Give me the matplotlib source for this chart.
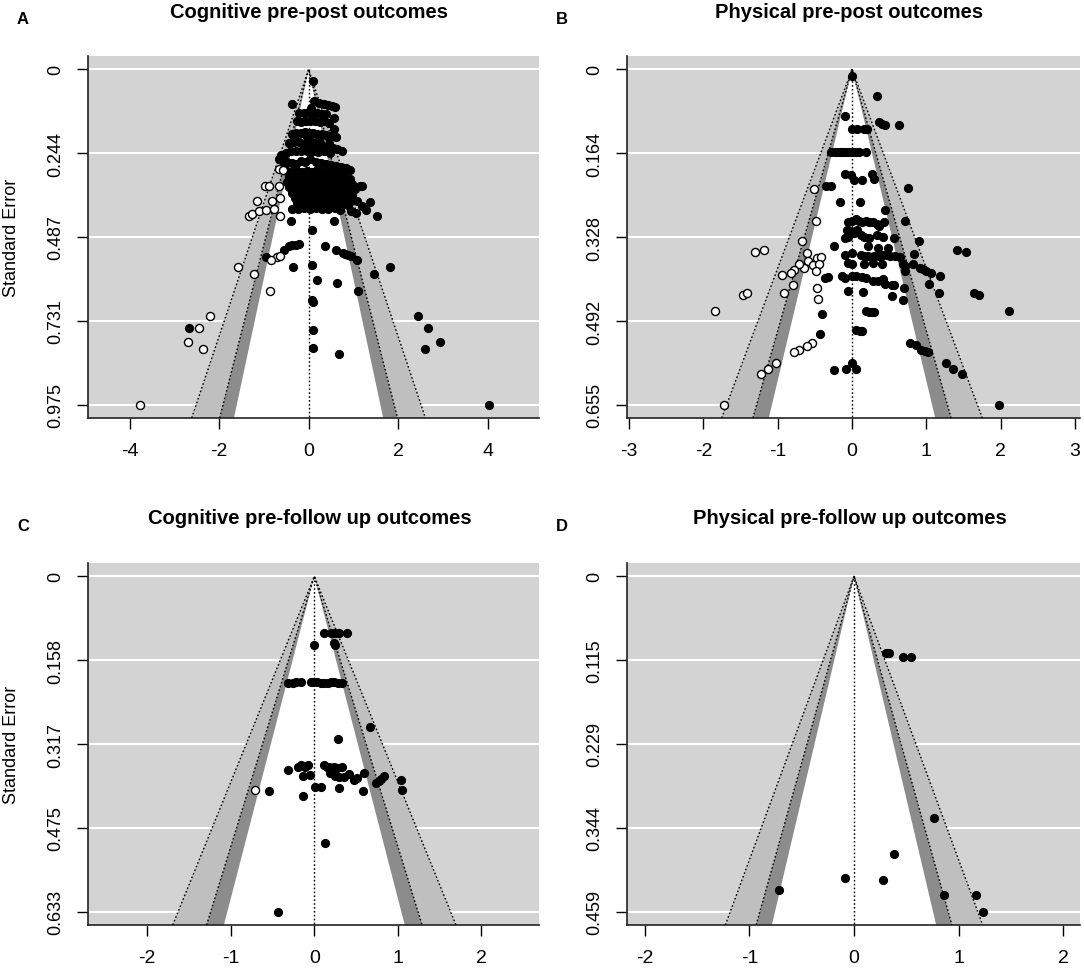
import numpy as np
import matplotlib
matplotlib.use("Agg")
import matplotlib.pyplot as plt

plt.rcParams['font.family'] = ['Liberation Sans', 'DejaVu Sans']

# ---------------------------------------------------------------------
# Data: (effect size, standard error)
# ---------------------------------------------------------------------
a_filled = [
    (0.10, 0.034),
    (-0.38, 0.100), (0.12, 0.092), (0.23, 0.097), (0.34, 0.102), (0.44, 0.104), (0.53, 0.107), (0.59, 0.109), (0.05, 0.112),
    (-0.22, 0.126), (-0.10, 0.128), (0.01, 0.124), (0.10, 0.127), (0.19, 0.126), (0.31, 0.129), (0.38, 0.131),
    (0.57, 0.141),
    (-0.25, 0.150), (-0.16, 0.152), (-0.05, 0.150), (0.04, 0.149), (0.14, 0.151), (0.25, 0.153), (0.35, 0.150), (0.46, 0.155),
    (0.57, 0.173),
    (-0.37, 0.189), (-0.28, 0.184), (-0.18, 0.186), (-0.08, 0.182), (0.01, 0.184), (0.10, 0.186), (0.19, 0.188),
    (0.29, 0.189), (0.38, 0.192), (0.49, 0.194), (0.61, 0.197),
    (-0.33, 0.199), (-0.03, 0.197), (0.23, 0.199), (0.46, 0.197),
    (-0.44, 0.215), (-0.33, 0.212), (-0.22, 0.210), (-0.13, 0.218), (-0.03, 0.222), (0.07, 0.212), (0.16, 0.220),
    (0.25, 0.215), (0.35, 0.225), (0.46, 0.218), (0.55, 0.228), (0.64, 0.232), (0.74, 0.236),
    (-0.61, 0.248), (-0.50, 0.242), (-0.40, 0.238), (-0.28, 0.236), (-0.16, 0.237), (-0.03, 0.238), (0.10, 0.236),
    (0.22, 0.240), (0.34, 0.238), (0.47, 0.242),
    (-0.67, 0.262), (-0.58, 0.265), (-0.48, 0.268), (-0.38, 0.272), (-0.28, 0.275), (-0.17, 0.265), (-0.07, 0.270),
    (0.04, 0.262), (0.16, 0.268), (0.27, 0.272), (0.38, 0.275), (0.49, 0.278), (0.61, 0.282), (0.72, 0.285),
    (0.83, 0.288), (0.92, 0.292),
    (-0.48, 0.296), (-0.37, 0.298), (-0.25, 0.295), (-0.14, 0.297), (-0.03, 0.296), (0.08, 0.299), (0.19, 0.294),
    (0.31, 0.297), (0.42, 0.296), (0.53, 0.300), (0.64, 0.298), (0.75, 0.302),
    (-0.43, 0.312), (-0.31, 0.314), (-0.20, 0.310), (-0.09, 0.313), (0.02, 0.311), (0.13, 0.315), (0.25, 0.312),
    (0.36, 0.310), (0.47, 0.314), (0.58, 0.312), (0.70, 0.316), (0.81, 0.313), (0.92, 0.318),
    (-0.48, 0.328), (-0.37, 0.330), (-0.25, 0.327), (-0.14, 0.329), (-0.03, 0.326), (0.08, 0.330), (0.19, 0.328),
    (0.31, 0.327), (0.42, 0.331), (0.53, 0.328), (0.64, 0.330), (0.75, 0.327), (0.87, 0.332), (0.98, 0.334),
    (-0.43, 0.343), (-0.31, 0.345), (-0.20, 0.342), (-0.09, 0.344), (0.02, 0.341), (0.13, 0.345), (0.25, 0.343),
    (0.36, 0.342), (0.47, 0.346), (0.58, 0.343), (0.70, 0.345), (0.81, 0.342), (0.92, 0.347), (1.03, 0.349),
    (-0.37, 0.359), (-0.25, 0.361), (-0.14, 0.358), (-0.03, 0.360), (0.08, 0.357), (0.19, 0.361), (0.31, 0.359),
    (0.42, 0.358), (0.53, 0.362), (0.64, 0.359), (0.75, 0.361), (0.87, 0.363), (0.98, 0.365),
    (-0.31, 0.374), (-0.20, 0.376), (-0.09, 0.373), (0.02, 0.375), (0.13, 0.372), (0.25, 0.376), (0.36, 0.374),
    (0.47, 0.373), (0.58, 0.377), (0.70, 0.375), (0.81, 0.378), (0.92, 0.380),
    (-0.25, 0.390), (-0.14, 0.392), (-0.03, 0.389), (0.08, 0.391), (0.19, 0.388), (0.31, 0.392), (0.42, 0.390),
    (0.53, 0.389), (0.64, 0.393), (0.75, 0.391), (0.87, 0.395),
    (-0.37, 0.405), (-0.23, 0.407), (-0.10, 0.404), (0.04, 0.406), (0.17, 0.403), (0.31, 0.407), (0.44, 0.405),
    (0.58, 0.404), (0.71, 0.408),
    (1.19, 0.340), (1.14, 0.338), (1.09, 0.383), (1.37, 0.385), (1.20, 0.398), (0.94, 0.412), (1.05, 0.419),
    (1.54, 0.425), (1.28, 0.409),
    (-0.40, 0.441), (0.57, 0.441),
    (0.08, 0.468), (-0.96, 0.545), (-0.55, 0.524), (-0.44, 0.515), (-0.37, 0.512), (-0.29, 0.510), (-0.22, 0.509),
    (-0.34, 0.575), (0.08, 0.569), (0.37, 0.515), (0.61, 0.525), (0.76, 0.534), (0.81, 0.536), (0.87, 0.540),
    (0.94, 0.544), (1.08, 0.554), (0.18, 0.614), (0.64, 0.621), (0.08, 0.672), (0.10, 0.677), (1.11, 0.645),
    (1.47, 0.594), (1.82, 0.575), (0.10, 0.759), (0.10, 0.810), (0.67, 0.829),
    (2.45, 0.716), (2.68, 0.752), (2.94, 0.792), (2.60, 0.813), (-2.68, 0.752), (4.04, 0.975),
]
a_open = [
    (-0.66, 0.291), (-0.58, 0.293), (-0.97, 0.340), (-0.89, 0.340), (-0.66, 0.340), (-1.15, 0.383), (-0.81, 0.383),
    (-0.63, 0.374), (-1.34, 0.427), (-1.26, 0.420), (-1.11, 0.413), (-0.96, 0.408), (-0.78, 0.406), (-0.63, 0.427),
    (-0.70, 0.545), (-0.84, 0.555), (-0.63, 0.543), (-1.57, 0.575), (-1.22, 0.594), (-0.87, 0.645),
    (-2.20, 0.716), (-2.45, 0.752), (-2.70, 0.792), (-2.35, 0.813), (-3.77, 0.975),
]

b_filled = [
    (0.00, 0.013), (0.34, 0.052), (-0.09, 0.091), (0.37, 0.103), (0.41, 0.106), (0.44, 0.108), (0.63, 0.108),
    (0.00, 0.117), (0.07, 0.117), (0.16, 0.117), (0.20, 0.117),
    (-0.28, 0.162), (-0.23, 0.162), (-0.20, 0.162), (-0.16, 0.162), (-0.13, 0.162), (-0.09, 0.162), (-0.06, 0.162),
    (-0.02, 0.162), (0.02, 0.162), (0.06, 0.162), (0.09, 0.162), (0.19, 0.162),
    (-0.09, 0.205), (-0.02, 0.207), (0.02, 0.216), (0.14, 0.216), (0.27, 0.205), (0.29, 0.215),
    (-0.35, 0.227), (-0.28, 0.227), (0.75, 0.231), (-0.16, 0.259), (0.11, 0.259), (0.44, 0.274), (0.72, 0.297),
    (-0.05, 0.299), (0.00, 0.297), (0.05, 0.293), (0.09, 0.297), (0.14, 0.299), (0.19, 0.297), (0.23, 0.299),
    (0.28, 0.299), (0.33, 0.303), (0.37, 0.306), (0.43, 0.299), (-0.07, 0.313), (-0.02, 0.316), (0.02, 0.319),
    (0.07, 0.313), (0.12, 0.323), (0.16, 0.327), (0.23, 0.329), (0.33, 0.323), (0.42, 0.327), (0.56, 0.329),
    (-0.09, 0.329), (-0.05, 0.327),
    (0.90, 0.336), (-0.24, 0.346), (0.21, 0.346), (0.35, 0.349), (0.49, 0.349),
    (-0.09, 0.362), (0.00, 0.359), (0.12, 0.362), (0.16, 0.364), (0.21, 0.365), (0.26, 0.366), (0.30, 0.365),
    (0.37, 0.364), (0.42, 0.362), (0.47, 0.362), (0.51, 0.364), (0.58, 0.365), (0.65, 0.367),
    (0.83, 0.360), (1.42, 0.352), (1.54, 0.357),
    (-0.05, 0.378), (0.00, 0.381), (0.16, 0.381), (0.28, 0.378), (0.40, 0.380), (0.68, 0.380), (0.72, 0.385),
    (0.82, 0.381), (0.91, 0.388), (0.95, 0.391), (1.00, 0.394), (1.07, 0.398), (1.19, 0.403), (0.72, 0.394),
    (-0.36, 0.408), (-0.33, 0.406), (-0.13, 0.404), (-0.09, 0.408), (0.00, 0.404), (0.05, 0.404), (0.14, 0.406),
    (0.19, 0.408), (0.28, 0.414), (0.35, 0.414), (0.42, 0.409), (0.44, 0.419), (0.54, 0.422), (0.57, 0.422),
    (1.04, 0.419), (0.70, 0.427), (-0.06, 0.434), (0.15, 0.435), (0.54, 0.442), (0.68, 0.450), (1.17, 0.436),
    (1.64, 0.436), (1.71, 0.440), (-0.40, 0.477), (0.19, 0.473), (0.23, 0.474), (0.27, 0.475), (0.30, 0.475),
    (2.11, 0.473), (0.06, 0.509), (0.11, 0.511), (0.14, 0.512), (-0.43, 0.518), (0.78, 0.535), (0.86, 0.538),
    (0.93, 0.548), (0.98, 0.550), (1.02, 0.552), (1.27, 0.574), (1.36, 0.585), (1.48, 0.595),
    (-0.24, 0.587), (-0.08, 0.585), (0.00, 0.574), (0.05, 0.585), (1.98, 0.655),
]
b_open = [
    (-0.51, 0.233), (-0.48, 0.297), (-0.67, 0.336), (-1.30, 0.357), (-1.19, 0.352), (-0.61, 0.359), (-0.59, 0.374),
    (-0.47, 0.368), (-0.42, 0.367), (-0.52, 0.383), (-0.45, 0.381), (-0.65, 0.388), (-0.71, 0.381), (-0.78, 0.392),
    (-0.82, 0.398), (-0.94, 0.402), (-0.48, 0.393), (-0.80, 0.421), (-0.92, 0.436), (-0.47, 0.428), (-0.46, 0.449),
    (-1.47, 0.440), (-1.42, 0.436), (-1.85, 0.473), (-0.54, 0.535), (-0.61, 0.540), (-0.71, 0.548), (-0.78, 0.552),
    (-1.02, 0.574), (-1.13, 0.585), (-1.22, 0.595), (-1.73, 0.655),
]

c_filled = [
    (0.12, 0.106), (0.20, 0.106), (0.25, 0.106), (0.30, 0.106), (0.39, 0.106), (0.00, 0.129), (0.25, 0.129),
    (0.24, 0.126),
    (-0.31, 0.201), (-0.26, 0.201), (-0.22, 0.200), (-0.16, 0.200), (-0.04, 0.200), (-0.01, 0.200), (0.03, 0.200),
    (0.08, 0.201), (0.12, 0.201), (0.16, 0.201), (0.20, 0.200), (0.24, 0.200), (0.28, 0.201), (0.33, 0.201),
    (0.67, 0.285), (0.28, 0.307),
    (-0.31, 0.365), (-0.20, 0.359), (-0.16, 0.357), (-0.11, 0.359), (-0.08, 0.357), (0.12, 0.356), (0.15, 0.360),
    (0.18, 0.359), (0.23, 0.360), (0.27, 0.362), (0.33, 0.359),
    (-0.14, 0.376), (-0.05, 0.375), (0.19, 0.371), (0.25, 0.377), (0.30, 0.379), (0.35, 0.379), (0.42, 0.374),
    (0.47, 0.384), (0.51, 0.381), (0.59, 0.371), (0.74, 0.390), (0.78, 0.387), (0.80, 0.382), (0.83, 0.377),
    (1.04, 0.384), (1.05, 0.404), (0.01, 0.397), (0.08, 0.397), (0.30, 0.400), (0.58, 0.406), (-0.54, 0.406),
    (-0.14, 0.414), (0.13, 0.503), (-0.43, 0.633),
]
c_open = [(-0.71, 0.403)]

d_filled = [
    (0.31, 0.105), (0.33, 0.105), (0.47, 0.110), (0.54, 0.110), (0.76, 0.331), (0.38, 0.380), (-0.09, 0.413),
    (0.28, 0.416), (-0.72, 0.429), (0.86, 0.436), (1.17, 0.436), (1.23, 0.459),
]
d_open = []

titles = ["Cognitive pre-post outcomes", "Physical pre-post outcomes",
          "Cognitive pre-follow up outcomes", "Physical pre-follow up outcomes"]
letters = ["A", "B", "C", "D"]
y_ticks = [[0, 0.244, 0.487, 0.731, 0.975],
           [0, 0.164, 0.328, 0.492, 0.655],
           [0, 0.158, 0.317, 0.475, 0.633],
           [0, 0.115, 0.229, 0.344, 0.459]]
y_labels = [["0", "0.244", "0.487", "0.731", "0.975"],
            ["0", "0.164", "0.328", "0.492", "0.655"],
            ["0", "0.158", "0.317", "0.475", "0.633"],
            ["0", "0.115", "0.229", "0.344", "0.459"]]
x_ticks = [[-4, -2, 0, 2, 4], [-3, -2, -1, 0, 1, 2, 3], [-2, -1, 0, 1, 2], [-2, -1, 0, 1, 2]]
x_limits = [(-4.93, 5.15), (-3.03, 3.07), (-2.71, 2.69), (-2.17, 2.16)]

# contour levels (z for 90%, 95%, 99%)
z90, z95, z99 = 1.645, 1.960, 2.576

# ---------------------------------------------------------------------
W, H = 1084, 970
fig = plt.figure(figsize=(W / 100, H / 100), dpi=100)

# panel boxes in pixels: left, top, right, bottom
boxes = [(88, 57, 539, 419), (627, 57, 1080, 419), (88, 564, 539, 926), (627, 564, 1080, 926)]
points = [(a_filled, a_open), (b_filled, b_open), (c_filled, c_open), (d_filled, d_open)]

for i in range(4):
    l, t, r, b = boxes[i]
    ax = fig.add_axes([l / W, 1 - b / H, (r - l) / W, (b - t) / H])
    ymax = y_ticks[i][-1]
    ybot = ymax * 1.04
    ax.set_xlim(*x_limits[i])
    ax.set_ylim(ybot, -0.04 * ymax)
    ax.set_facecolor("#d3d3d3")

    # white grid lines under the contours
    for yv in y_ticks[i]:
        ax.axhline(yv, color="white", lw=1.5, zorder=1)

    # contour shading
    for z, col in [(z99, "#bfbfbf"), (z95, "#8c8c8c"), (z90, "white")]:
        ax.fill([-z * ybot, 0, z * ybot], [ybot, 0, ybot], color=col, lw=0, zorder=2)

    dot = (0, (1.2, 1.6))
    for z in (z99, z95):
        ax.plot([-z * ybot, 0, z * ybot], [ybot, 0, ybot], color="black", lw=1, ls=dot, zorder=3)
    ax.plot([0, 0], [0, ybot], color="black", lw=1, ls=dot, zorder=3)

    filled, opened = points[i]
    if filled:
        fx, fy = zip(*filled)
        ax.plot(fx, fy, "o", ms=5.8, mfc="black", mec="black", mew=0.8, ls="none", zorder=4)
    if opened:
        ox, oy = zip(*opened)
        ax.plot(ox, oy, "o", ms=5.8, mfc="white", mec="black", mew=1.0, ls="none", zorder=5)

    ax.set_xticks(x_ticks[i])
    ax.set_xticklabels([str(v) for v in x_ticks[i]])
    ax.set_yticks(y_ticks[i])
    ax.set_yticklabels(y_labels[i], rotation=90, va="center")
    ax.tick_params(direction="out", length=8, width=1)
    ax.tick_params(axis="y", pad=9, labelsize=13)
    ax.tick_params(axis="x", pad=9, labelsize=14)
    for s in ("top", "right"):
        ax.spines[s].set_visible(False)
    for s in ("left", "bottom"):
        ax.spines[s].set_linewidth(1.2)
        ax.spines[s].set_color("#222222")

    if i in (0, 2):
        fig.text(12 / W, 1 - ((t + b) / 2) / H, "Standard Error", rotation=90, ha="center", va="center",
                 fontsize=13)

    fig.text(((l + r) / 2 - 4) / W, 1 - (t - 45) / H, titles[i], ha="center", va="center",
             fontsize=14.5, fontweight="bold")
    fig.text((l - 65) / W, 1 - (t - 37) / H, letters[i], ha="center", va="center",
             fontsize=12, fontweight="bold")

fig.savefig("out.png", dpi=100)
